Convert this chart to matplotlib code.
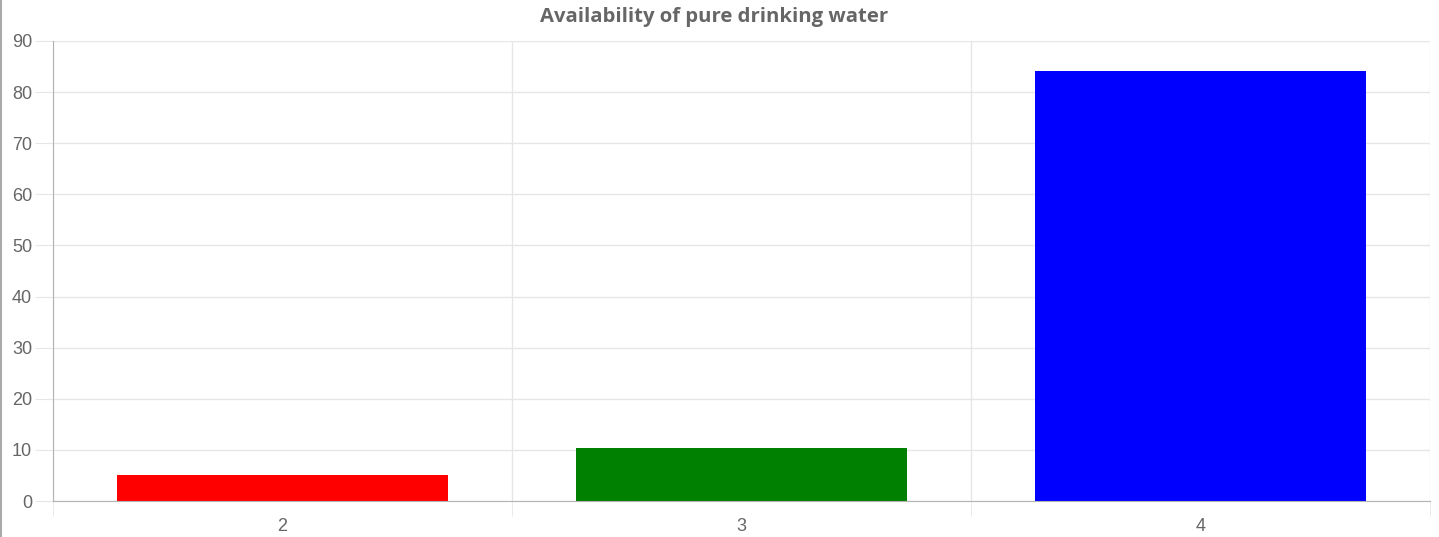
import matplotlib
matplotlib.use("Agg")
import matplotlib.pyplot as plt
from matplotlib.lines import Line2D

categories = ["2", "3", "4"]
values = [5.1, 10.4, 84.1]
colors = ["#ff0000", "#008000", "#0000ff"]
title = "Availability of pure drinking water"

W, H = 1439, 537
fig = plt.figure(figsize=(W / 100, H / 100), dpi=100)
ax = fig.add_axes([53 / W, (H - 501) / H, (1430 - 53) / W, (501 - 41) / H])

x = list(range(len(categories)))
ax.bar(x, values, width=0.72, color=colors, zorder=3)

ax.set_xlim(-0.5, len(categories) - 0.5)
ax.set_ylim(0, 90)
ax.set_yticks(range(0, 91, 10))
ax.set_xticks(x)
ax.set_xticklabels(categories)
ax.set_xticks([i - 0.5 for i in range(len(categories) + 1)], minor=True)

grid_c = "#e6e6e6"
axis_c = "#b3b3b3"
text_c = "#666666"

ax.grid(axis="y", which="major", color=grid_c, linewidth=1, zorder=0)
ax.grid(axis="x", which="minor", color=grid_c, linewidth=1, zorder=0)
ax.grid(axis="x", which="major", visible=False)

for s in ["top", "right"]:
    ax.spines[s].set_visible(False)
ax.spines["left"].set_color(axis_c)
ax.spines["bottom"].set_color(axis_c)
ax.spines["left"].set_zorder(4)
ax.spines["bottom"].set_zorder(4)

font = ["Liberation Sans", "DejaVu Sans"]
ax.tick_params(axis="y", which="major", length=13, color=grid_c, labelcolor=text_c,
               labelsize=13, pad=2)
ax.tick_params(axis="x", which="major", length=0, labelcolor=text_c, labelsize=13, pad=12)
ax.tick_params(axis="x", which="minor", length=11, color=grid_c)
for lab in ax.get_xticklabels() + ax.get_yticklabels():
    lab.set_fontfamily(font)

fig.text((539 + 890) / 2 / W, 1 - 17 / H, title, ha="center", va="center",
         fontsize=14.6, fontweight="bold", color=text_c,
         family=["Open Sans", "DejaVu Sans"])

# outer left border line of the image
fig.add_artist(Line2D([0.5 / W, 0.5 / W], [0, 1], color="#aaaaaa", linewidth=1.5,
                      transform=fig.transFigure))

fig.savefig("out.png", dpi=100, facecolor="white")
